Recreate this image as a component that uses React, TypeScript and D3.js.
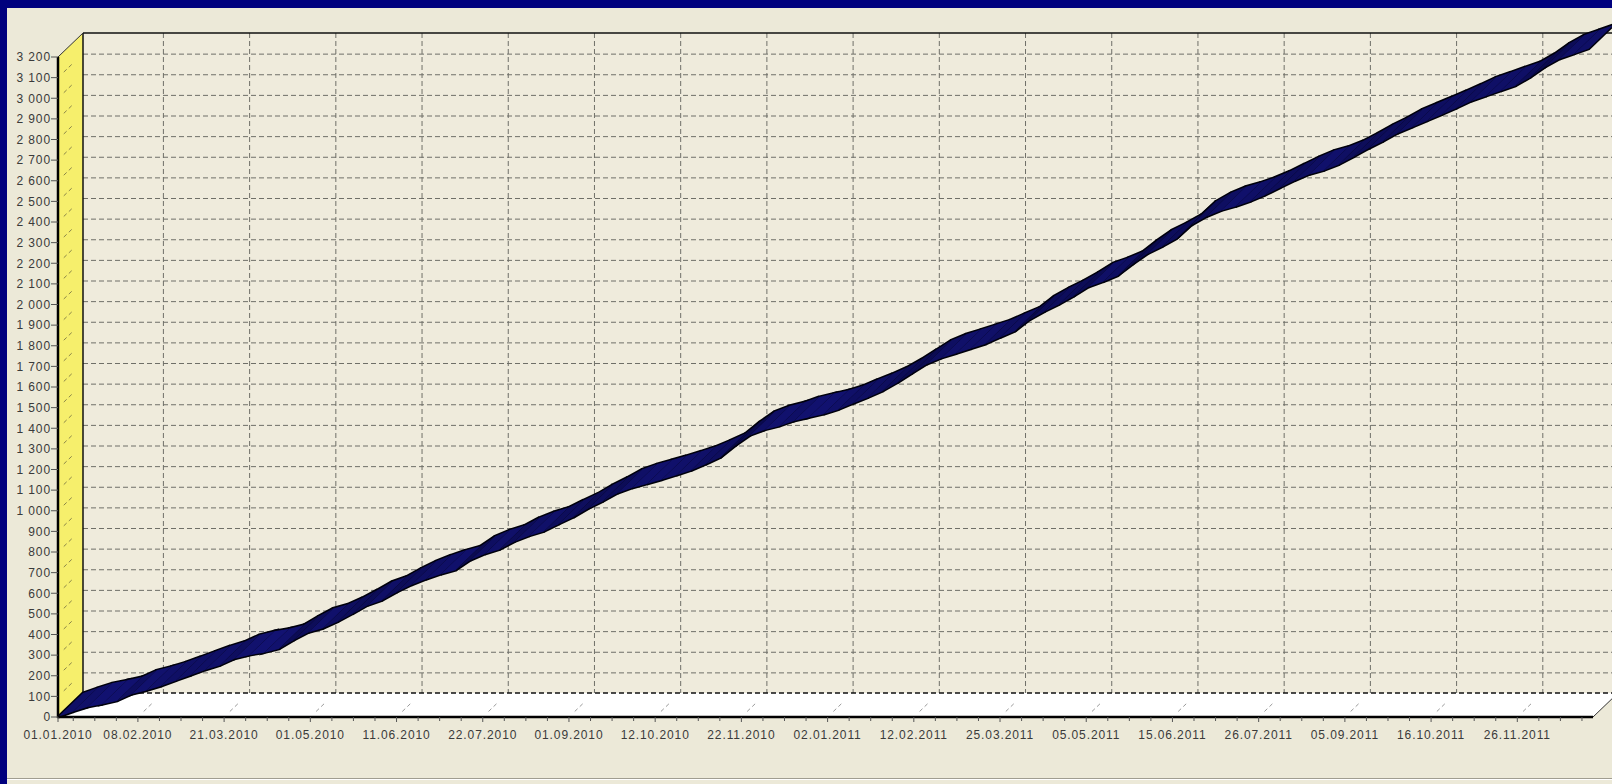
import React from "react";
import * as d3 from "d3";

// ---- data ----
const startDate = "2010-01-01";
const endDate = "2012-01-01";
// weekly equity values (one every 7 days from 01.01.2010)
const equity = [
  0, 25, 48, 62, 78, 110, 128, 150, 176, 202,
  228, 250, 282, 300, 312, 330, 372, 410, 430, 462,
  500, 540, 565, 605, 640, 668, 692, 712, 760, 790,
  812, 850, 878, 900, 935, 968, 1010, 1045, 1085, 1110,
  1130, 1150, 1172, 1195, 1225, 1258, 1315, 1365, 1392, 1410,
  1435, 1452, 1468, 1490, 1520, 1548, 1580, 1620, 1665, 1710,
  1740, 1762, 1785, 1808, 1840, 1870, 1925, 1965, 2000, 2040,
  2085, 2110, 2140, 2195, 2245, 2280, 2320, 2385, 2425, 2455,
  2475, 2500, 2530, 2565, 2600, 2630, 2650, 2678, 2715, 2755,
  2790, 2830, 2860, 2890, 2920, 2952, 2985, 3010, 3035, 3060,
  3100, 3150, 3190, 3215, 3240,
];
const xTickLabels = [
  "01.01.2010", "08.02.2010", "21.03.2010", "01.05.2010", "11.06.2010",
  "22.07.2010", "01.09.2010", "12.10.2010", "22.11.2010", "02.01.2011",
  "12.02.2011", "25.03.2011", "05.05.2011", "15.06.2011", "26.07.2011",
  "05.09.2011", "16.10.2011", "26.11.2011",
];
const yMax = 3200;
const yStep = 100;

// ---- layout ----
const W = 1612;
const H = 784;
const X0 = 58;
const X1 = 1593;
const Y0 = 717;
const Y1 = 57;
const DX = 25;
const DY = -24;

const parseDMY = d3.timeParse("%d.%m.%Y");
const parseISO = d3.timeParse("%Y-%m-%d");

export default function App() {
  const x = d3.scaleTime().domain([parseISO(startDate)!, parseISO(endDate)!]).range([X0, X1]);
  const y = d3.scaleLinear().domain([0, yMax]).range([Y0, Y1]);
  const yTicks = d3.range(0, yMax + 1, yStep);
  const fmt = (v: number) => d3.format(",")(v).replace(/,/g, "\u00a0");
  const majorDates = xTickLabels.map((s) => parseDMY(s)!);

  const step = (x(majorDates[2]) - x(majorDates[1])) / 4;
  const minorXs: number[] = [];
  for (let i = 1; i < majorDates.length; i++) {
    const a = x(majorDates[i - 1]);
    const b = x(majorDates[i]);
    for (let k = 1; k < 4; k++) {
      const p = b - step * k;
      if (p > a + 2) minorXs.push(p);
    }
  }
  {
    let p = x(majorDates[majorDates.length - 1]) + step;
    while (p < X1 - 2) {
      minorXs.push(p);
      p += step;
    }
  }

  const pts = equity.map((v, i) => {
    const dt = d3.timeDay.offset(parseISO(startDate)!, i * 7);
    return [x(dt), y(v)] as [number, number];
  });

  const segs = pts.slice(1).map((p, i) => {
    const a = pts[i];
    const b = p;
    const slope = (a[1] - b[1]) / Math.max(1, b[0] - a[0]);
    const t = Math.max(0, Math.min(1, slope / 1.1));
    const col = d3.interpolateRgb("#14147e", "#050532")(t);
    const poly = [a, b, [b[0] + DX, b[1] + DY], [a[0] + DX, a[1] + DY]];
    return { poly, col };
  });

  const gridColor = "#6f6f68";
  const txt = { fontSize: 12, fill: "#3a3a3a", letterSpacing: 0.9 } as const;

  return (
    <svg
      width={W}
      height={H}
      style={{ position: "absolute", left: 0, top: 0, display: "block" }}
      fontFamily="'Liberation Sans', Arial, sans-serif"
    >
      <rect x={0} y={0} width={W} height={H} fill="#00007e" />
      <rect x={7} y={8} width={W - 7} height={H - 8} fill="#ece9d8" />
      <line x1={7} x2={W} y1={778.5} y2={778.5} stroke="#a09d90" strokeWidth={1} />
      <line x1={7} x2={W} y1={779.5} y2={779.5} stroke="#ffffff" strokeWidth={1} />

      {/* back wall */}
      <rect x={X0 + DX} y={Y1 + DY} width={X1 - X0} height={Y0 - Y1} fill="#efebdc" />
      {/* floor */}
      <polygon
        points={[[X0, Y0], [X1, Y0], [X1 + DX, Y0 + DY], [X0 + DX, Y0 + DY]].map((p) => p.join(",")).join(" ")}
        fill="#ffffff"
      />
      {/* left wall */}
      <polygon
        points={[[X0, Y0], [X0, Y1], [X0 + DX, Y1 + DY], [X0 + DX, Y0 + DY]].map((p) => p.join(",")).join(" ")}
        fill="#f6ef6c"
      />

      {yTicks.slice(1, -1).map((v) => (
        <line
          key={"hg" + v}
          x1={X0 + DX}
          x2={X1 + DX}
          y1={y(v) + DY + 0.5}
          y2={y(v) + DY + 0.5}
          stroke={gridColor}
          strokeWidth={1}
          strokeDasharray="5,3"
        />
      ))}
      {yTicks.slice(1, -1).map((v) => (
        <line
          key={"lw" + v}
          x1={X0}
          y1={y(v)}
          x2={X0 + DX}
          y2={y(v) + DY}
          stroke="#8a8548"
          strokeWidth={1}
          strokeDasharray="0,8,4,3,4,20"
        />
      ))}
      {majorDates.slice(1).map((d, i) => (
        <line
          key={"vg" + i}
          x1={x(d) + DX + 0.5}
          x2={x(d) + DX + 0.5}
          y1={Y1 + DY}
          y2={Y0 + DY}
          stroke={gridColor}
          strokeWidth={1}
          strokeDasharray="5,3"
        />
      ))}
      {majorDates.slice(1).map((d, i) => (
        <line
          key={"fl" + i}
          x1={x(d)}
          y1={Y0}
          x2={x(d) + DX}
          y2={Y0 + DY}
          stroke="#9a9a9a"
          strokeWidth={1}
          strokeDasharray="0,8,4,3,4,20"
        />
      ))}

      <line x1={X0 + DX} x2={X1 + DX} y1={Y1 + DY} y2={Y1 + DY} stroke="#111" strokeWidth={1.5} />
      <line x1={X0 + DX} x2={X0 + DX} y1={Y1 + DY} y2={Y0 + DY} stroke="#111" strokeWidth={1.5} />
      <line x1={X0 + DX} x2={X1 + DX} y1={Y0 + DY} y2={Y0 + DY} stroke="#111" strokeWidth={1.5} strokeDasharray="5,3" />
      <line x1={X0} y1={Y1} x2={X0 + DX} y2={Y1 + DY} stroke="#333" strokeWidth={1} />
      <line x1={X1} y1={Y0} x2={X1 + DX} y2={Y0 + DY} stroke="#333" strokeWidth={1} />

      {/* ribbon series: dark outline then fill */}
      {segs.map((s, i) => (
        <polygon
          key={"s" + i}
          points={s.poly.map((p) => p.join(",")).join(" ")}
          fill={s.col}
          stroke="#00000c"
          strokeWidth={3}
          strokeLinejoin="miter"
        />
      ))}
      {segs.map((s, i) => (
        <polygon
          key={"f" + i}
          points={s.poly.map((p) => p.join(",")).join(" ")}
          fill={s.col}
          stroke="none"
        />
      ))}

      <line x1={X0} x2={X0} y1={Y1} y2={Y0 + 1} stroke="#000" strokeWidth={2.5} />
      <line x1={X0 - 1} x2={X1} y1={Y0} y2={Y0} stroke="#000" strokeWidth={2.5} />

      {yTicks.map((v) => (
        <g key={"yt" + v}>
          <line x1={X0 - 7} x2={X0} y1={y(v)} y2={y(v)} stroke="#555" strokeWidth={1} />
          <text x={X0 - 7} y={y(v)} dy="0.36em" textAnchor="end" {...txt}>
            {fmt(v)}
          </text>
        </g>
      ))}

      {minorXs.map((p, i) => (
        <line key={"mx" + i} x1={p} x2={p} y1={Y0} y2={Y0 + 4} stroke="#555" strokeWidth={1} />
      ))}
      {majorDates.map((d, i) => (
        <g key={"xt" + i}>
          <line x1={x(d)} x2={x(d)} y1={Y0} y2={Y0 + 5} stroke="#555" strokeWidth={1} />
          <text x={x(d)} y={739} textAnchor="middle" {...txt}>
            {xTickLabels[i]}
          </text>
        </g>
      ))}
    </svg>
  );
}
